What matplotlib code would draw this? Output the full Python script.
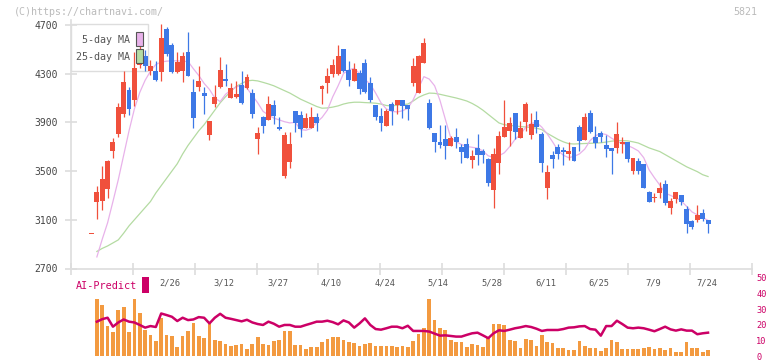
import matplotlib
matplotlib.use('Agg')
import matplotlib.pyplot as plt
from matplotlib.patches import Rectangle
import numpy as np

# ---------------- data (candle index 0 .. 115) ----------------
opens = [2981, 3249, 3255, 3353, 3665, 3802, 3972, 4166, 4087, 4374,
         4445, 4325, 4325, 4314, 4667, 4536, 4317, 4325, 4481, 4153,
         4194, 4142, 3800, 4049, 4194, 4254, 4103, 4109, 4207, 4183,
         4142, 3767, 3945, 3923, 4043, 3863, 3463, 3575, 3994, 3961,
         3857, 3857, 3945, 4177, 4224, 4298, 4298, 4503, 4331, 4243,
         4306, 4388, 4224, 4043, 3953, 3873, 4051, 4043, 4084, 4043,
         4226, 4144, 4383, 4060, 3813, 3739, 3764, 3709, 3780, 3698,
         3723, 3594, 3690, 3665, 3600, 3348, 3570, 3780, 3832, 3977,
         3775, 3906, 3800, 3920, 3805, 3364, 3633, 3698, 3674, 3644,
         3698, 3863, 3758, 3977, 3780, 3813, 3715, 3690, 3693, 3726,
         3739, 3504, 3583, 3559, 3329, 3282, 3323, 3394, 3200, 3274,
         3304, 3189, 3093, 3102, 3159, 3102]
highs = [2981, 3381, 3545, 3591, 3769, 4057, 4322, 4188, 4481, 4550,
         4495, 4413, 4407, 4708, 4681, 4550, 4476, 4481, 4645, 4254,
         4363, 4191, 3912, 4207, 4437, 4380, 4224, 4240, 4322, 4298,
         4174, 3863, 3950, 4117, 4084, 3945, 3819, 3819, 3994, 3994,
         3977, 4027, 3977, 4207, 4347, 4421, 4536, 4503, 4404, 4388,
         4331, 4421, 4273, 4043, 4018, 4010, 4068, 4084, 4084, 4043,
         4432, 4454, 4593, 4092, 3813, 3879, 3879, 3789, 3854, 3723,
         3772, 3674, 3805, 3682, 3608, 3693, 3830, 4084, 3945, 3977,
         3912, 4068, 3977, 3994, 3821, 3550, 3665, 3723, 3698, 3739,
         3698, 3879, 3977, 4002, 3871, 3830, 3797, 3690, 3904, 3780,
         3739, 3608, 3608, 3559, 3337, 3323, 3411, 3427, 3282, 3329,
         3304, 3217, 3102, 3225, 3192, 3102]
lows = [2981, 3107, 3181, 3277, 3605, 3778, 3947, 3964, 4035, 4344,
        4325, 4289, 4240, 4240, 4448, 4303, 4303, 4235, 4284, 3852,
        4158, 3972, 3756, 4024, 4185, 4202, 4103, 4103, 4054, 4174,
        3939, 3644, 3813, 3923, 3887, 3838, 3446, 3529, 3824, 3783,
        3857, 3857, 3832, 4054, 4144, 4276, 4289, 4314, 4202, 4243,
        4136, 4144, 4068, 3923, 3832, 3873, 3882, 3972, 3939, 3923,
        4202, 4144, 4383, 3849, 3660, 3693, 3603, 3709, 3693, 3570,
        3611, 3529, 3553, 3570, 3381, 3200, 3479, 3780, 3709, 3767,
        3775, 3832, 3767, 3816, 3496, 3274, 3529, 3603, 3553, 3594,
        3586, 3668, 3758, 3813, 3693, 3739, 3619, 3479, 3652, 3652,
        3578, 3479, 3479, 3364, 3249, 3249, 3282, 3225, 3151, 3241,
        3225, 2995, 3028, 3085, 3093, 2995]
closes = [2981, 3326, 3433, 3583, 3739, 4027, 4235, 4013, 4347, 4429,
          4366, 4363, 4248, 4596, 4462, 4317, 4399, 4445, 4284, 3939,
          4240, 4120, 3912, 4109, 4331, 4240, 4183, 4133, 4062, 4273,
          3972, 3813, 3873, 4051, 3956, 3846, 3797, 3723, 3898, 3846,
          3939, 3945, 3898, 4199, 4281, 4372, 4445, 4325, 4251, 4339,
          4177, 4153, 4084, 3947, 3898, 3994, 3997, 4084, 4035, 4013,
          4363, 4445, 4552, 3857, 3739, 3717, 3709, 3772, 3739, 3660,
          3611, 3624, 3635, 3635, 3405, 3641, 3789, 3863, 3895, 3824,
          3854, 4051, 3887, 3863, 3570, 3493, 3603, 3644, 3660, 3665,
          3586, 3750, 3945, 3821, 3734, 3783, 3685, 3668, 3805, 3739,
          3603, 3608, 3504, 3364, 3249, 3291, 3362, 3241, 3255, 3329,
          3249, 3069, 3044, 3140, 3110, 3069]

# moving averages (index 1 .. 115)
ma5 = [2795, 2940, 3075, 3250, 3430, 3630, 3830, 4010, 4145, 4245,
       4320, 4375, 4395, 4402, 4405, 4405, 4400, 4400, 4340, 4285,
       4220, 4170, 4100, 4070, 4130, 4165, 4190, 4205, 4180, 4120,
       4060, 3990, 3960, 3935, 3920, 3905, 3895, 3900, 3840, 3835,
       3850, 3900, 3940, 4000, 4110, 4200, 4300, 4330, 4344, 4300,
       4250, 4215, 4140, 4060, 4010, 3990, 3985, 3995, 4015, 4085,
       4180, 4275, 4255, 4200, 4080, 3925, 3775, 3742, 3718, 3702,
       3695, 3688, 3665, 3625, 3612, 3625, 3650, 3700, 3760, 3800,
       3860, 3890, 3900, 3860, 3805, 3740, 3670, 3630, 3610, 3620,
       3640, 3680, 3750, 3790, 3808, 3800, 3770, 3745, 3725, 3710,
       3690, 3665, 3610, 3510, 3445, 3385, 3320, 3300, 3280, 3255,
       3210, 3165, 3140, 3118, 3095]
ma25 = [2840, 2865, 2885, 2910, 2935, 2990, 3050, 3100, 3150, 3200,
        3250, 3320, 3380, 3440, 3500, 3560, 3640, 3710, 3770, 3830,
        3880, 3940, 4000, 4060, 4110, 4155, 4195, 4220, 4240, 4245,
        4240, 4228, 4215, 4200, 4180, 4160, 4140, 4115, 4090, 4070,
        4050, 4030, 4016, 4018, 4025, 4035, 4050, 4060, 4065, 4065,
        4062, 4060, 4057, 4050, 4038, 4035, 4040, 4045, 4050, 4075,
        4105, 4125, 4140, 4138, 4130, 4120, 4110, 4100, 4088, 4075,
        4055, 4030, 4000, 3965, 3930, 3895, 3880, 3875, 3870, 3865,
        3862, 3858, 3852, 3840, 3810, 3785, 3760, 3740, 3725, 3722,
        3724, 3726, 3728, 3729, 3732, 3738, 3745, 3750, 3750, 3748,
        3740, 3730, 3710, 3690, 3675, 3660, 3635, 3610, 3585, 3560,
        3535, 3515, 3495, 3470, 3455]

# lower panel (index 1 .. 115)
volume = [36.3, 32.4, 19.1, 15.3, 29.2, 31.7, 15.3, 36.3, 27.3, 16.6,
          13.4, 9.7, 24.6, 13.4, 12.8, 5.9, 12.8, 16.0, 21.0, 12.8,
          11.6, 21.0, 10.3, 9.7, 7.8, 6.5, 7.1, 7.8, 4.6, 7.8,
          12.2, 7.8, 7.1, 9.7, 10.3, 16.0, 16.0, 7.1, 7.1, 4.6,
          5.9, 5.9, 9.0, 10.9, 12.2, 12.2, 10.3, 9.0, 8.4, 6.5,
          7.8, 8.4, 6.5, 6.5, 6.5, 6.5, 5.9, 6.5, 5.9, 9.7,
          14.1, 17.9, 36.8, 22.9, 17.9, 16.6, 10.3, 9.0, 9.0, 5.9,
          7.8, 7.1, 5.9, 11.6, 20.4, 20.4, 19.7, 10.3, 9.7, 5.3,
          10.9, 10.3, 6.5, 13.4, 9.0, 8.4, 5.3, 5.3, 4.0, 4.0,
          9.7, 6.5, 5.3, 5.3, 3.4, 5.3, 10.3, 9.0, 4.6, 4.6,
          4.6, 4.6, 5.3, 5.7, 4.6, 5.3, 4.0, 5.3, 2.7, 2.7,
          9.0, 5.3, 5.3, 2.7, 4.0]
ai_predict = [22.1, 23.7, 24.6, 18.9, 21.6, 23.5, 22.1, 21.6, 20.0, 18.3,
              19.3, 18.7, 27.3, 26.3, 25.2, 22.5, 24.6, 23.1, 23.5, 25.0,
              24.6, 21.0, 24.6, 27.1, 24.6, 23.9, 23.1, 22.3, 23.3, 21.6,
              20.6, 20.0, 22.1, 20.8, 18.9, 20.0, 20.0, 18.9, 18.9, 20.0,
              21.0, 22.1, 22.1, 22.7, 21.8, 20.4, 22.9, 21.6, 18.3, 21.0,
              24.2, 20.0, 17.4, 17.0, 17.9, 18.9, 18.9, 17.9, 19.5, 16.2,
              16.2, 16.2, 15.8, 14.5, 13.2, 13.4, 13.0, 12.6, 12.6, 13.7,
              14.7, 15.1, 13.4, 11.6, 14.7, 16.6, 16.2, 17.0, 17.9, 18.5,
              19.3, 18.7, 17.6, 16.2, 16.8, 16.8, 16.8, 17.4, 18.3, 18.5,
              19.1, 19.3, 17.4, 17.0, 13.2, 19.3, 19.3, 22.7, 20.6, 18.3,
              17.9, 18.3, 17.9, 17.0, 16.0, 17.4, 18.9, 17.2, 16.4, 17.2,
              16.4, 16.4, 14.1, 14.7, 15.1]

date_labels = ['2/26', '3/12', '3/27', '4/10', '4/24', '5/14',
               '5/28', '6/11', '6/25', '7/9', '7/24']
date_index = [15, 25, 35, 45, 55, 65, 75, 85, 95, 105, 115]
price_ticks = [2700, 3100, 3500, 3900, 4300, 4700]
sub_ticks = [0, 10, 20, 30, 40, 50]

# ---------------- styling ----------------
RED = '#f0503c'
BLUE = '#3d78e6'
PINK = '#e8b2ea'
GREEN = '#b4dba2'
ORANGE = '#f39a40'
MAGENTA = '#cc0066'
MONO = 'DejaVu Sans Mono'

W, H = 772, 361
fig = plt.figure(figsize=(W / 100, H / 100), dpi=100)
fig.patch.set_facecolor('white')

AX_L, AX_R = 70.7, 752.0
AX_T, AX_B = 20.0, 268.5
ax = fig.add_axes([AX_L / W, 1 - AX_B / H, (AX_R - AX_L) / W, (AX_B - AX_T) / H])
XMIN, XMAX = -3.88, 123.2
ax.set_xlim(XMIN, XMAX)
ax.set_ylim(2700, 4740)

o = np.array(opens, float)
h = np.array(highs, float)
l = np.array(lows, float)
c = np.array(closes, float)
idx = np.arange(len(o))
up = c >= o
cols = np.where(up, RED, BLUE)

ax.vlines(idx, l, h, colors=cols, lw=0.9, zorder=3)
body_bottom = np.minimum(o, c)
body_h = np.maximum(np.abs(c - o), 9)
ax.bar(idx, body_h, bottom=body_bottom, width=0.92, color=cols, zorder=4, linewidth=0)

ma_x = np.arange(1, len(o))
ax.plot(ma_x, ma25, color=GREEN, lw=0.9, zorder=2)
ax.plot(ma_x, ma5, color=PINK, lw=0.9, zorder=2)

for s in ['top', 'right']:
    ax.spines[s].set_visible(False)
for s in ['left', 'bottom']:
    ax.spines[s].set_color('#dddddd')
    ax.spines[s].set_linewidth(1.2)

ax.set_yticks(price_ticks)
ax.set_yticklabels([str(v) for v in price_ticks], family=MONO, fontsize=7, color='#444444')
ax.tick_params(axis='y', direction='inout', length=8, width=1.2, color='#dddddd', pad=5)

step = (XMAX - XMIN) / 11
ax.set_xticks([XMIN + k * step for k in range(12)])
ax.set_xticklabels([])
ax.tick_params(axis='x', which='major', direction='inout', length=8, width=1.2, color='#dddddd')
ax.set_xticks([d - 0.3 for d in date_index], minor=True)
ax.set_xticklabels(date_labels, minor=True, family=MONO, fontsize=6.3, color='#555555')
ax.tick_params(axis='x', which='minor', length=0, pad=7)


def axfrac(px, py):
    return ((px - AX_L) / (AX_R - AX_L), (AX_B - py) / (AX_B - AX_T))


# legend box
x0, y0 = axfrac(70.7, 71.0)
x1, y1 = axfrac(148.0, 24.3)
ax.add_patch(Rectangle((x0, y0), x1 - x0, y1 - y0, transform=ax.transAxes,
                       facecolor='white', edgecolor='#dddddd', lw=1.0,
                       zorder=1.5, clip_on=False))
tx, ty = axfrac(129.5, 40.0)
ax.text(tx, ty, '5-day MA', transform=ax.transAxes, ha='right', va='center',
        family=MONO, fontsize=7.2, color='#555555', zorder=6)
tx, ty = axfrac(129.5, 57.0)
ax.text(tx, ty, '25-day MA', transform=ax.transAxes, ha='right', va='center',
        family=MONO, fontsize=7.2, color='#555555', zorder=6)
for (top, bot, fc) in [(31.7, 46.0, PINK), (48.7, 63.3, GREEN)]:
    a0, b0 = axfrac(136.3, bot)
    a1, b1 = axfrac(142.7, top)
    ax.add_patch(Rectangle((a0, b0), a1 - a0, b1 - b0, transform=ax.transAxes,
                           facecolor=fc, edgecolor='#555555', lw=0.8,
                           zorder=6, clip_on=False))

# watermark texts
fig.text(14 / W, 1 - 12 / H, '(C)https://chartnavi.com/', family=MONO, fontsize=7.2,
         color='#bbbbbb', ha='left', va='center')
fig.text(757 / W, 1 - 12 / H, '5821', family=MONO, fontsize=7.2,
         color='#bbbbbb', ha='right', va='center')

# ---------------- lower panel ----------------
B_T, B_B = 277.8, 356.4
ax2 = fig.add_axes([AX_L / W, 1 - B_B / H, (AX_R - AX_L) / W, (B_B - B_T) / H])
ax2.set_xlim(XMIN, XMAX)
ax2.set_ylim(0, 50)
sx = np.arange(1, len(o))
ax2.bar(sx, volume, width=0.69, color=ORANGE, linewidth=0, zorder=2)
ax2.plot(sx, ai_predict, color=MAGENTA, lw=1.8, zorder=3)
for s in ax2.spines.values():
    s.set_visible(False)
ax2.set_xticks([])
ax2.yaxis.tick_right()
ax2.set_yticks(sub_ticks)
ax2.set_yticklabels([str(v) for v in sub_ticks], family=MONO, fontsize=6.2, color=MAGENTA)
ax2.tick_params(axis='y', length=0, pad=3)
ax2.patch.set_alpha(0)

fig.text(76 / W, 1 - 286 / H, 'AI-Predict', family=MONO, fontsize=7.3,
         color=MAGENTA, ha='left', va='center')
fig.add_artist(Rectangle((142.3 / W, 1 - 292.7 / H), 6.4 / W, 16 / H,
                         transform=fig.transFigure, facecolor=MAGENTA, edgecolor='none'))

fig.savefig('out.png', dpi=100, facecolor='white')
